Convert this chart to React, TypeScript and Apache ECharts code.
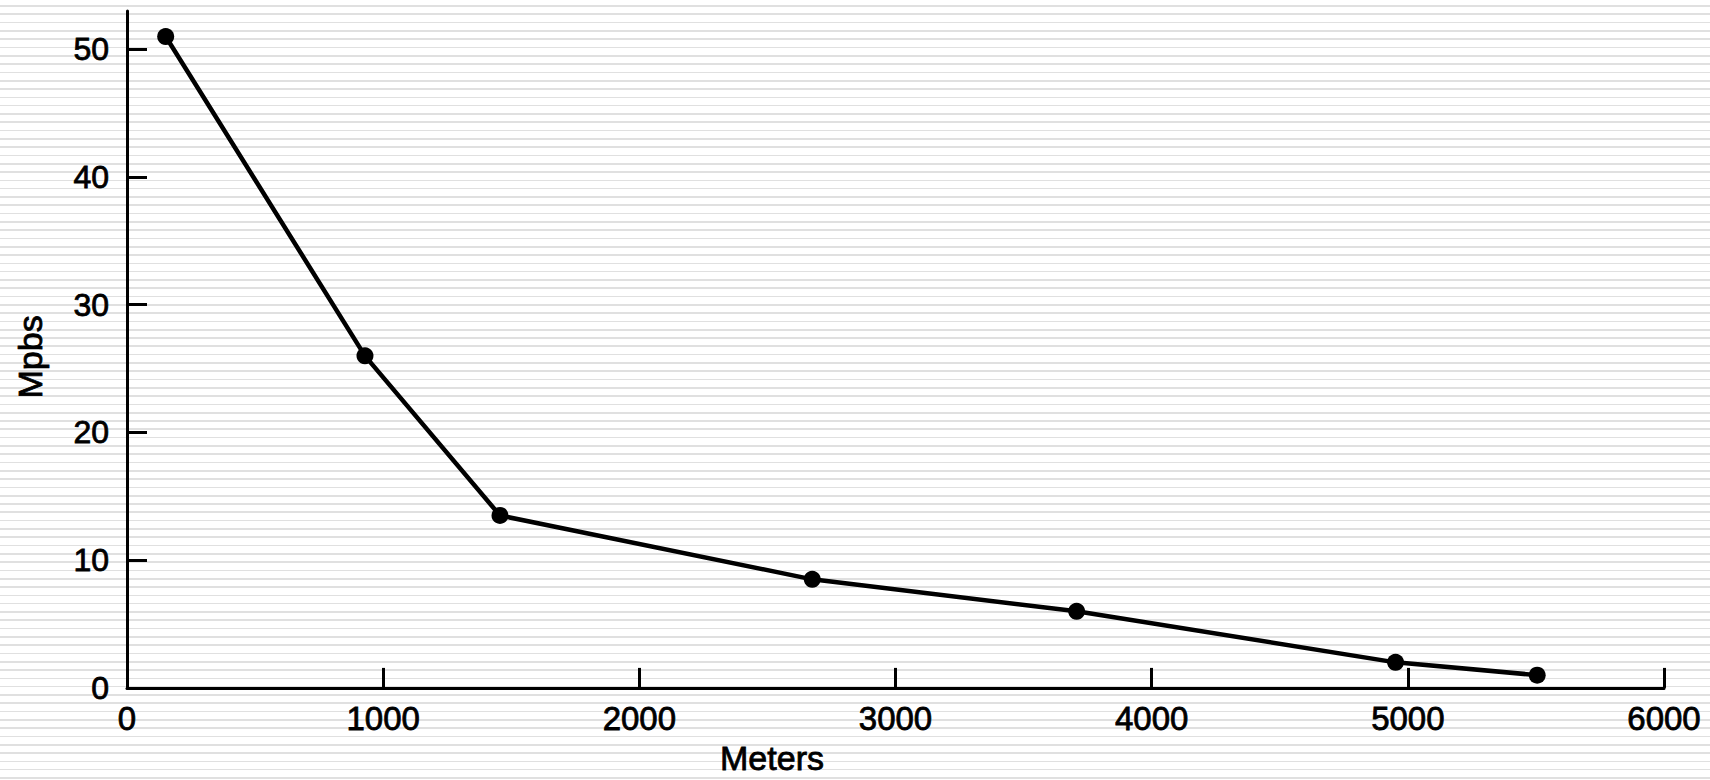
import React, { useEffect, useRef } from "react";
import * as echarts from "echarts";

const meters = [151, 929, 1456, 2675, 3707, 4952, 5505];
const mbps = [51.0, 26.0, 13.5, 8.5, 6.0, 2.0, 1.0];
const yTicks = [0, 10, 20, 30, 40, 50];
const xTicks = [0, 1000, 2000, 3000, 4000, 5000, 6000];
const xName = "Meters";
const yName = "Mpbs";

const FONT = "'Liberation Sans', Arial, Helvetica, sans-serif";

export default function App() {
  const ref = useRef<HTMLDivElement>(null);
  useEffect(() => {
    if (!ref.current) return;
    const chart = echarts.init(ref.current, undefined, { renderer: "svg" });
    const textBase = {
      fontFamily: FONT,
      color: "#000",
      textBorderColor: "#000",
      textBorderWidth: 0.8,
    };
    chart.setOption({
      animation: false,
      backgroundColor: "transparent",
      grid: { left: 127, right: 46, top: 11, bottom: 88 },
      xAxis: {
        type: "value",
        min: 0,
        max: 6000,
        interval: 1000,
        name: xName,
        nameLocation: "middle",
        nameGap: 52,
        nameTextStyle: {
          ...textBase,
          fontSize: 34,
          lineHeight: 34,
          padding: [0, 247, 0, 0],
        },
        axisLine: { show: true, lineStyle: { color: "#000", width: 3 } },
        axisTick: {
          show: true,
          inside: true,
          length: 20,
          customValues: xTicks,
          lineStyle: { color: "#000", width: 3 },
        },
        axisLabel: {
          ...textBase,
          customValues: xTicks,
          formatter: (v: number) => String(v),
          fontSize: 33,
          lineHeight: 33,
          margin: 14,
        },
        splitLine: { show: false },
      },
      yAxis: {
        type: "value",
        min: 0,
        max: 53,
        name: yName,
        nameLocation: "middle",
        nameGap: 80,
        nameTextStyle: {
          ...textBase,
          fontSize: 34,
          lineHeight: 34,
          padding: [0, 15, 0, 0],
        },
        axisLine: { show: true, lineStyle: { color: "#000", width: 3 } },
        axisTick: {
          show: true,
          inside: true,
          length: 20,
          customValues: yTicks,
          lineStyle: { color: "#000", width: 3 },
        },
        axisLabel: {
          ...textBase,
          customValues: yTicks,
          formatter: (v: number) => String(v),
          fontSize: 32,
          lineHeight: 32,
          margin: 18,
        },
        splitLine: { show: false },
      },
      series: [
        {
          type: "line",
          data: meters.map((m, i) => [m, mbps[i]]),
          symbol: "circle",
          symbolSize: 17,
          lineStyle: { color: "#000", width: 4.5 },
          itemStyle: { color: "#000" },
        },
      ],
    });
    return () => chart.dispose();
  }, []);
  return (
    <div
      style={{
        position: "fixed",
        left: 0,
        top: 0,
        width: 1710,
        height: 780,
        background:
          "repeating-linear-gradient(to bottom, #ffffff 0px, #ffffff 5.2px, #e0e0e0 5.2px, #e0e0e0 6.8px, #ffffff 6.8px, #ffffff 8.3px)",
      }}
    >
      <div ref={ref} style={{ width: 1710, height: 780 }} />
    </div>
  );
}
